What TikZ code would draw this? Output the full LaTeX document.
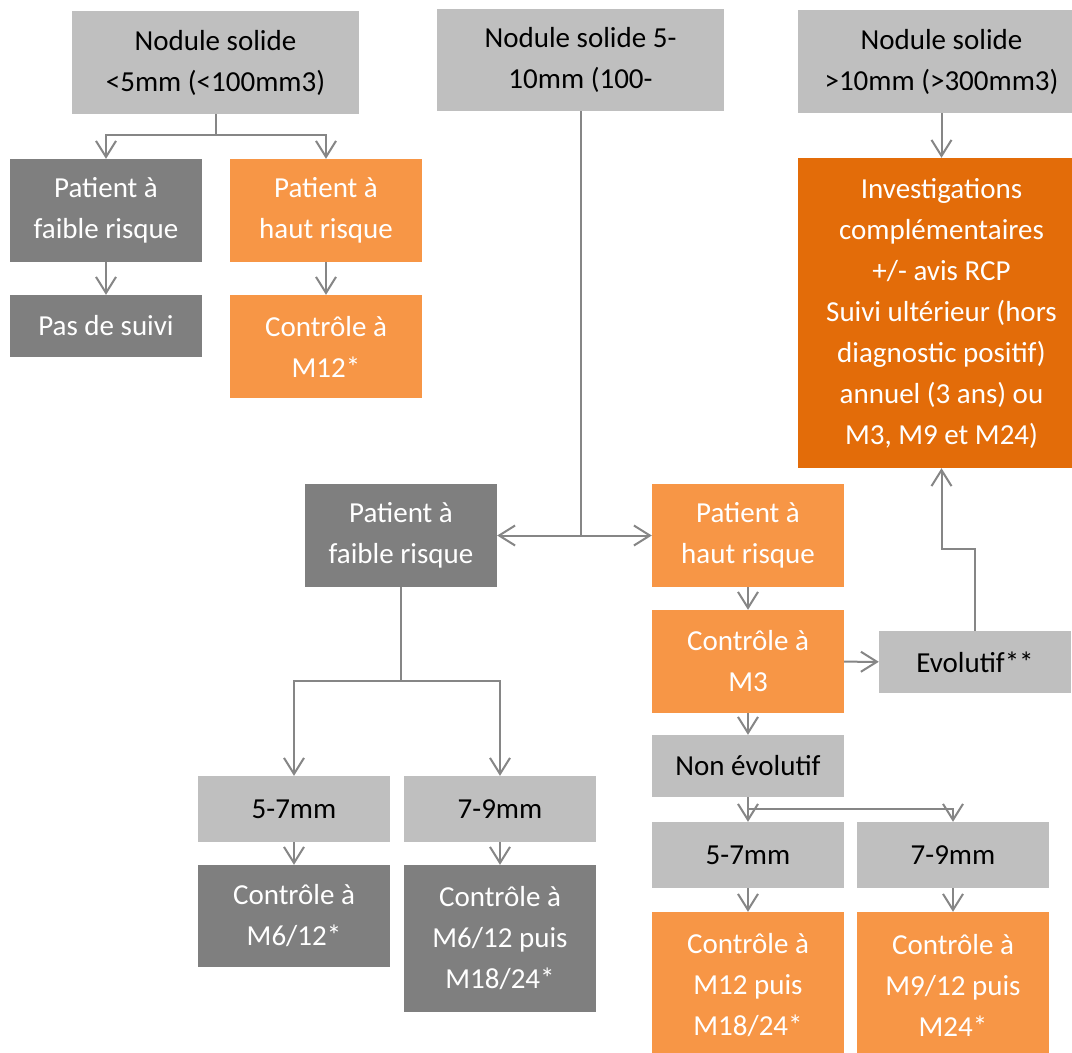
\documentclass[tikz,border=0pt]{standalone}
\usepackage{fontspec}
\setmainfont{Carlito}
\usetikzlibrary{arrows.meta}
\definecolor{lgray}{HTML}{BFBFBF}
\definecolor{dgray}{HTML}{7F7F7F}
\definecolor{orng}{HTML}{F79646}
\definecolor{dorng}{HTML}{E36C09}
\definecolor{conn}{HTML}{868686}
\tikzset{
  bx/.style={draw=none, inner sep=0pt, align=center, font=\fontsize{29}{41}\selectfont},
  lgbox/.style={bx, fill=lgray, text=black},
  dgbox/.style={bx, fill=dgray, text=white},
  orbox/.style={bx, fill=orng, text=white},
  dobox/.style={bx, fill=dorng, text=white},
  w/.style={minimum width=#1pt},
  h/.style={minimum height=#1pt},
  link/.style={draw=conn, line width=2pt, -{Straight Barb[length=16pt,width=20pt,line width=2pt]}},
  plain/.style={draw=conn, line width=2pt}
}
\begin{document}
\begin{tikzpicture}[x=1pt,y=-1pt]
\clip (0,0) rectangle (1072,1053);
\fill[white] (0,0) rectangle (1072,1053);
% top row
\node[lgbox, w=287, h=103] (n1) at (215.5,62.5) {Nodule solide\\<5mm (<100mm3)};
\node[lgbox, w=287, h=102] (n2) at (580.5,60) {Nodule solide 5-\\10mm (100-};
\node[lgbox, w=287, h=103] (n3) at (941.5,61.5) {Nodule solide\\>10mm (>300mm3)};
% left branch
\node[dgbox, w=192, h=103] (lr1) at (106,210.5) {Patient à\\faible risque};
\node[orbox, w=192, h=103] (hr1) at (326,210.5) {Patient à\\haut risque};
\node[dgbox, w=192, h=62] (ps) at (106,326) {Pas de suivi};
\node[orbox, w=192, h=103] (c12) at (326,346.5) {Contrôle à\\M12*};
% right column
\node[dobox, w=287, h=310] (inv) at (941.5,313) {Investigations\\complémentaires\\+/- avis RCP\\ Suivi ultérieur (hors\\diagnostic positif)\\annuel (3 ans) ou\\M3, M9 et M24)};
% middle
\node[dgbox, w=192, h=103] (lr2) at (401,535.5) {Patient à\\faible risque};
\node[orbox, w=192, h=103] (hr2) at (748,535.5) {Patient à\\haut risque};
\node[orbox, w=192, h=103] (m3) at (748,661.5) {Contrôle à\\M3};
\node[lgbox, w=192, h=62] (evo) at (975,662) {Evolutif**};
\node[lgbox, w=192, h=62] (nonevo) at (748,766) {Non évolutif};
\node[lgbox, w=192, h=66] (s57a) at (294,809) {5-7mm};
\node[lgbox, w=192, h=66] (s79a) at (500,809) {7-9mm};
\node[dgbox, w=192, h=102] (c612) at (294,916) {Contrôle à\\M6/12*};
\node[dgbox, w=192, h=147] (c612p) at (500,938.5) {Contrôle à\\M6/12 puis\\M18/24*};
\node[lgbox, w=192, h=66] (s57b) at (748,855) {5-7mm};
\node[lgbox, w=192, h=66] (s79b) at (953,855) {7-9mm};
\node[orbox, w=192, h=146] (cm12p) at (748,985) {Contrôle à\\M12 puis\\M18/24*};
\node[orbox, w=192, h=146] (cm912) at (953,985) {Contrôle à\\M9/12 puis\\M24*};
% connectors
\coordinate (j1) at (215.5,135);
\draw[plain] (n1.south) -- (j1);
\draw[link] (j1) -| (lr1.north);
\draw[link] (j1) -| (hr1.north);
\draw[link] (lr1) -- (ps);
\draw[link] (hr1) -- (c12);
\coordinate (j2) at (580.5,535.5);
\draw[plain] (n2.south) -- (j2);
\draw[link] (j2) -- (lr2.east);
\draw[link] (j2) -- (hr2.west);
\draw[link] (n3) -- (inv);
\coordinate (j3) at (401,681);
\draw[plain] (lr2.south) -- (j3);
\draw[link] (j3) -| (s57a.north);
\draw[link] (j3) -| (s79a.north);
\draw[link] (s57a) -- (c612);
\draw[link] (s79a) -- (c612p);
\draw[link] (hr2) -- (m3);
\draw[link] (m3) -- (evo);
\draw[link] (m3) -- (nonevo);
\coordinate (k) at (941.5,549);
\draw[link] (evo.north) |- (k) -- (k |- inv.south);
\draw[link] (nonevo) -- (s57b);
\coordinate (j4) at (748,809);
\draw[link] (j4) -| (s79b.north);
\draw[link] (s57b) -- (cm12p);
\draw[link] (s79b) -- (cm912);
\end{tikzpicture}
\end{document}
